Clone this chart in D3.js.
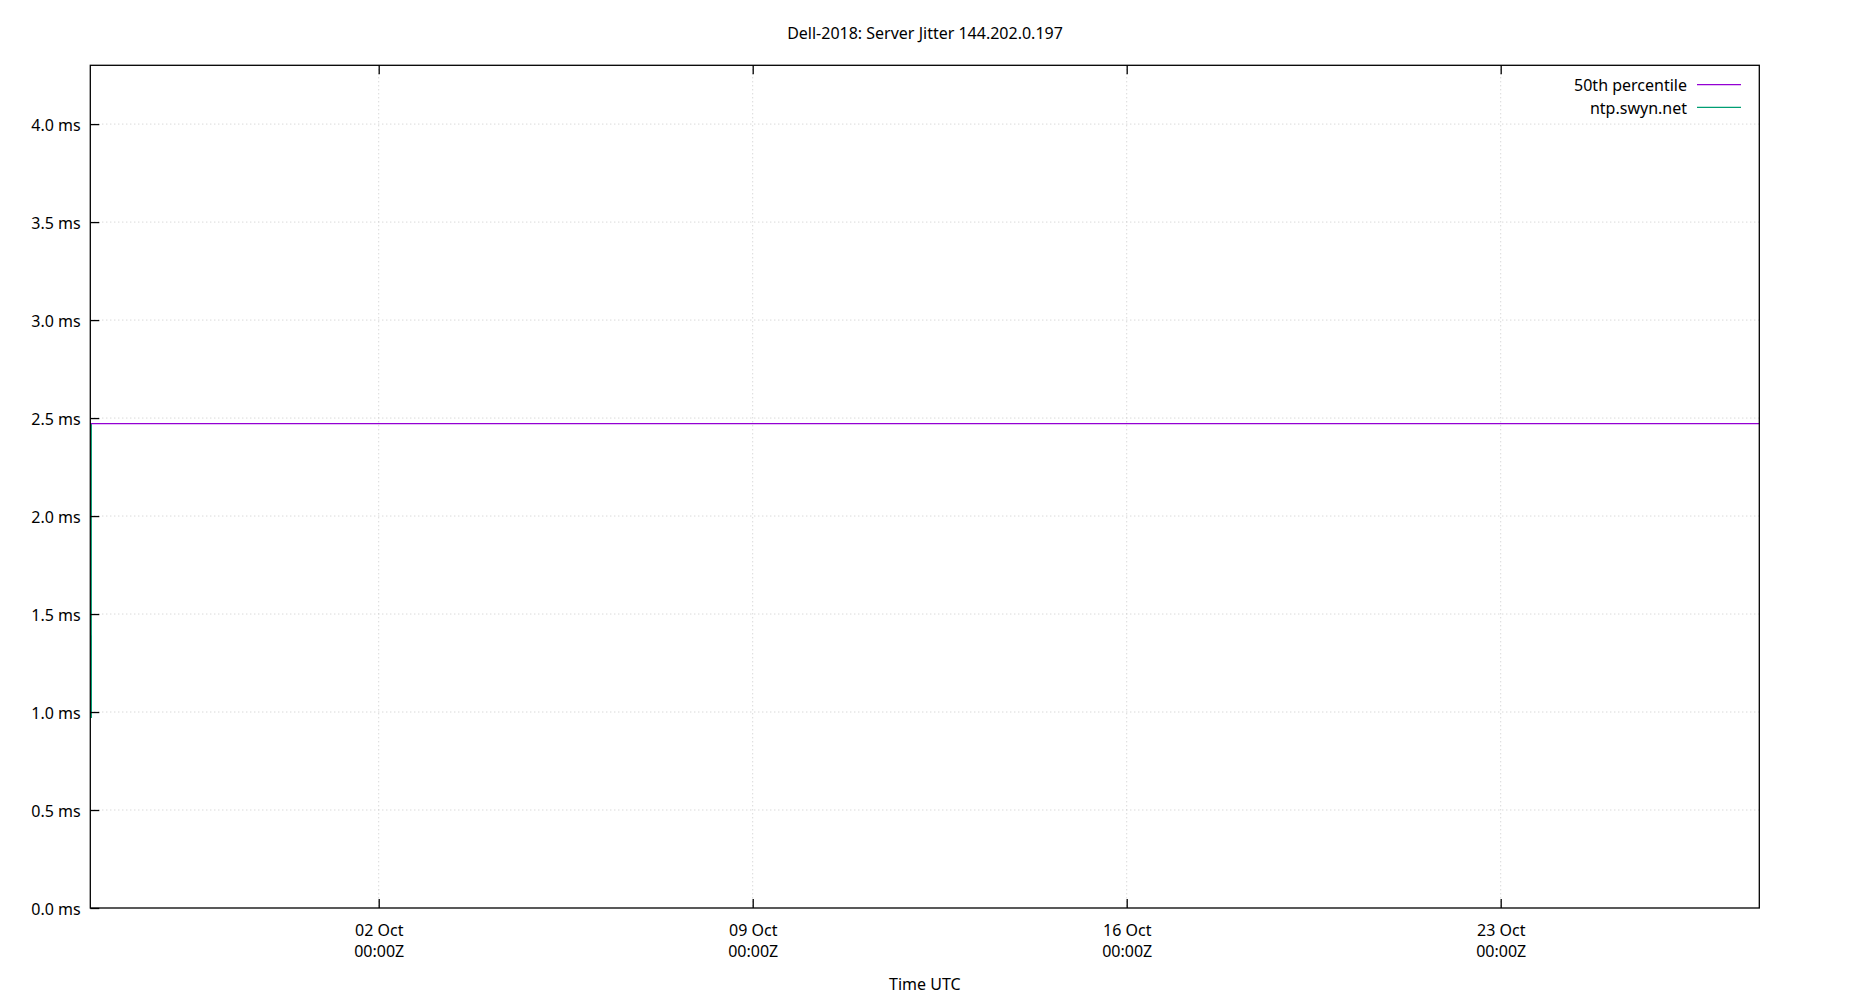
<!DOCTYPE html>
<html>
<head>
<meta charset="utf-8">
<script src="https://cdn.jsdelivr.net/npm/d3@7"></script>
<style>
	body { margin: 0; background: #fff; }
	svg { display: block; font-family: "Noto Sans", sans-serif; }
</style>
</head>
<body>
<div id="chart"></div>
<script>

// values
var chartTitle = "Dell-2018: Server Jitter 144.202.0.197";
var xLabel = "Time UTC";

var timeRange = ["2023-09-26T14:27:00Z", "2023-10-27T20:10:00Z"];
var xTicks = ["2023-10-02T00:00:00Z", "2023-10-09T00:00:00Z", "2023-10-16T00:00:00Z", "2023-10-23T00:00:00Z"];
var yTicks = [0, 0.5, 1.0, 1.5, 2.0, 2.5, 3.0, 3.5, 4.0];
var yMax = 4.30;

var seriesNames = ["50th percentile", "ntp.swyn.net"];
var seriesColors = ["#9400d3", "#009e73"];

// 50th percentile sits flat the whole month
var p50Times = ["2023-09-26T14:27:00Z", "2023-10-27T20:10:00Z"];
var p50Values = [2.472, 2.472];

// the server only shows as a short drop at the very start
var swynTimes = ["2023-09-26T14:54:00Z", "2023-09-26T14:55:00Z"];
var swynValues = [2.47, 0.97];

var width = 1850,
	height = 1000;

var margin = { top: 65.3, right: 90.7, bottom: 92, left: 90.3 };

var Chart = function(opts) {

	this.svg = d3.select(opts.element)
		.append("svg")
		.attr("width", width)
		.attr("height", height);

	this.w = width - margin.left - margin.right;
	this.h = height - margin.top - margin.bottom;

	this.x = d3.scaleUtc()
		.domain(timeRange.map(function(d) { return new Date(d); }))
		.range([0, this.w]);

	this.y = d3.scaleLinear()
		.domain([0, yMax])
		.range([this.h, 0]);

	this.plot = this.svg.append("g")
		.attr("transform", "translate(" + margin.left + "," + margin.top + ")");

	this.grid();
	this.lines();
	this.axes();
	this.legend();
	this.labels();
}

Chart.prototype.grid = function() {
	var x = this.x, y = this.y, w = this.w, h = this.h;

	var g = this.plot.append("g")
		.attr("stroke", "#c8c8c8")
		.attr("stroke-width", 1)
		.attr("stroke-dasharray", "1,3");

	g.selectAll(".gy")
		.data(yTicks.slice(1))
		.enter().append("line")
		.attr("x1", 0).attr("x2", w)
		.attr("y1", function(d) { return y(d); })
		.attr("y2", function(d) { return y(d); });

	g.selectAll(".gx")
		.data(xTicks)
		.enter().append("line")
		.attr("y1", 0).attr("y2", h)
		.attr("x1", function(d) { return x(new Date(d)); })
		.attr("x2", function(d) { return x(new Date(d)); });
}

Chart.prototype.lines = function() {
	var x = this.x, y = this.y;

	var line = d3.line()
		.x(function(d) { return x(d.t); })
		.y(function(d) { return y(d.v); });

	var sets = [
		p50Times.map(function(t, i) { return { t: new Date(t), v: p50Values[i] }; }),
		swynTimes.map(function(t, i) { return { t: new Date(t), v: swynValues[i] }; })
	];

	// draw the server first so the percentile sits on top
	this.plot.selectAll("path.series")
		.data([1, 0])
		.enter().append("path")
		.attr("class", "series")
		.attr("fill", "none")
		.attr("stroke-width", 1.3)
		.attr("stroke", function(i) { return seriesColors[i]; })
		.attr("d", function(i) { return line(sets[i]); });
}

Chart.prototype.axes = function() {
	var x = this.x, y = this.y, w = this.w, h = this.h;

	var yAxis = this.plot.append("g")
		.call(d3.axisLeft(y)
			.tickValues(yTicks)
			.tickSize(-9)
			.tickPadding(9.6)
			.tickFormat(function(d) { return d3.format(".1f")(d) + " ms"; }));

	yAxis.selectAll(".tick text").attr("dy", "0.4em");

	var xAxis = this.plot.append("g")
		.attr("transform", "translate(0," + h + ")")
		.call(d3.axisBottom(x)
			.tickValues(xTicks.map(function(d) { return new Date(d); }))
			.tickSize(-9)
			.tickPadding(16.3)
			.tickFormat(d3.utcFormat("%d %b")));

	// two line tick labels, date then time
	xAxis.selectAll(".tick text").each(function(d) {
		var t = d3.select(this);
		t.text(null);
		t.append("tspan").attr("x", 0).text(d3.utcFormat("%d %b")(d));
		t.append("tspan").attr("x", 0).attr("dy", "1.35em").text(d3.utcFormat("%H:%MZ")(d));
	});

	// mirrored ticks on top, no labels
	var topAxis = this.plot.append("g")
		.call(d3.axisTop(x)
			.tickValues(xTicks.map(function(d) { return new Date(d); }))
			.tickSize(-9)
			.tickFormat(""));

	[yAxis, xAxis, topAxis].forEach(function(a) {
		a.select(".domain").remove();
		a.attr("font-family", null).attr("font-size", 16);
		a.selectAll(".tick line").attr("stroke", "#000").attr("stroke-width", 1.3);
		a.selectAll(".tick text").attr("fill", "#000");
	});

	this.plot.append("rect")
		.attr("width", w)
		.attr("height", h)
		.attr("fill", "none")
		.attr("stroke", "#000")
		.attr("stroke-width", 1.3);
}

Chart.prototype.legend = function() {
	var w = this.w;

	var rows = this.plot.append("g")
		.attr("transform", "translate(" + (w - 72.3) + ",19.4)")
		.selectAll("g")
		.data(seriesNames)
		.enter().append("g")
		.attr("transform", function(d, i) { return "translate(0," + (i * 22.6) + ")"; });

	rows.append("text")
		.attr("text-anchor", "end")
		.attr("dy", "0.42em")
		.attr("font-size", 16)
		.text(function(d) { return d; });

	rows.append("line")
		.attr("x1", 10).attr("x2", 54)
		.attr("stroke-width", 1.3)
		.attr("stroke", function(d, i) { return seriesColors[i]; });
}

Chart.prototype.labels = function() {
	this.svg.append("text")
		.attr("x", width / 2)
		.attr("y", 39.3)
		.attr("text-anchor", "middle")
		.attr("font-size", 16)
		.text(chartTitle);

	this.svg.append("text")
		.attr("x", margin.left + this.w / 2)
		.attr("y", 990)
		.attr("text-anchor", "middle")
		.attr("font-size", 16)
		.text(xLabel);
}

var chart = new Chart({ element: "#chart" });

</script>
</body>
</html>
